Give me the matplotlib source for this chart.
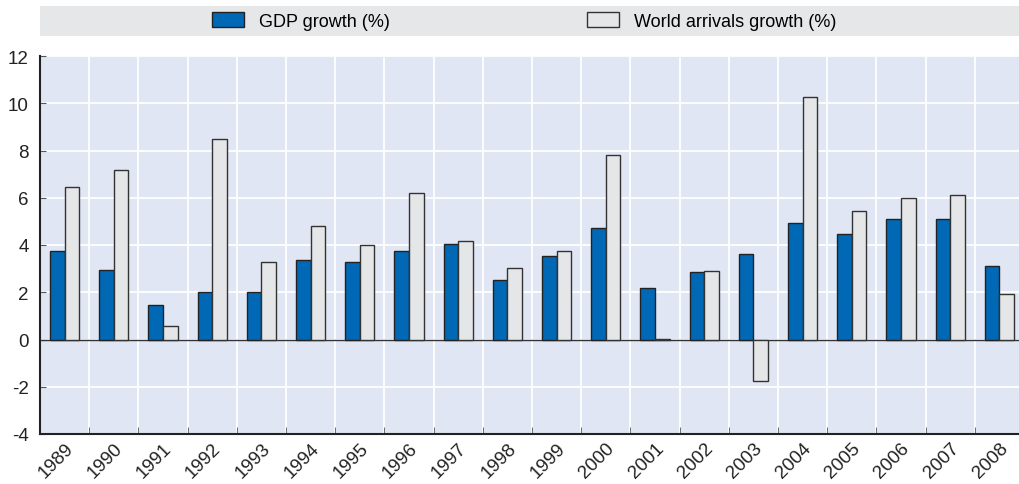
import matplotlib
matplotlib.use("Agg")
import matplotlib.pyplot as plt
import numpy as np
from matplotlib.patches import Rectangle

# données
years = ["1989", "1990", "1991", "1992", "1993", "1994", "1995", "1996", "1997", "1998",
         "1999", "2000", "2001", "2002", "2003", "2004", "2005", "2006", "2007", "2008"]
gdp_growth = [3.73, 2.94, 1.45, 2.02, 1.99, 3.36, 3.28, 3.74, 4.03, 2.53,
              3.53, 4.70, 2.20, 2.84, 3.63, 4.93, 4.45, 5.08, 5.08, 3.09]
arrivals_growth = [6.47, 7.18, 0.59, 8.47, 3.30, 4.82, 4.01, 6.21, 4.17, 3.02,
                   3.73, 7.81, 0.03, 2.90, -1.74, 10.28, 5.44, 6.00, 6.10, 1.91]
y_ticks = [-4, -2, 0, 2, 4, 6, 8, 10, 12]

plt.rcParams['font.family'] = ['Liberation Sans', 'DejaVu Sans']

W, H = 1019, 485
fig = plt.figure(figsize=(W / 100, H / 100), dpi=100)
ax = fig.add_axes([40 / W, 50 / H, 984 / W, 378 / H])
ax.set_facecolor('#e0e6f4')

x = np.arange(len(years))
bw = 0.295
b1 = ax.bar(x - bw / 2, gdp_growth, bw, color='#0068b5', edgecolor='#222222',
            linewidth=1.0, label='GDP growth (%)', zorder=3)
b2 = ax.bar(x + bw / 2, arrivals_growth, bw, color='#e5e6e8', edgecolor='#333333',
            linewidth=1.0, label='World arrivals growth (%)', zorder=3)

ax.set_xlim(-0.5, len(years) - 0.5)
ax.set_ylim(-4, 12)
ax.set_yticks(y_ticks)
ax.set_yticklabels([str(v) for v in y_ticks], fontsize=13.5, color='#222222')

# grille aux limites de catégories
ax.set_xticks(x - 0.5, minor=True)
ax.set_xticks(x)
ax.set_xticklabels(years, rotation=45, ha='right', rotation_mode='anchor',
                   fontsize=13.5, color='#222222')
ax.tick_params(axis='x', which='major', length=0, pad=4)
ax.tick_params(axis='x', which='minor', direction='in', length=5, color='#555555')
ax.tick_params(axis='y', direction='in', length=4, color='#555555', pad=8)
ax.grid(True, which='minor', axis='x', color='white', linewidth=1.3, zorder=1)
ax.grid(True, which='major', axis='y', color='white', linewidth=1.3, zorder=1)
ax.set_axisbelow(True)
ax.axhline(0, color='#333333', linewidth=1.0, zorder=2)

for s in ['top', 'right']:
    ax.spines[s].set_visible(False)
ax.spines['left'].set_color('#222222')
ax.spines['bottom'].set_color('#222222')
ax.spines['left'].set_linewidth(1.5)
ax.spines['bottom'].set_linewidth(1.5)

# bandeau de légende
fig.patches.append(Rectangle((40 / W, 1 - 37 / H), (W - 40) / W, 30 / H,
                             transform=fig.transFigure, facecolor='#e6e7e9',
                             edgecolor='none', zorder=0))
fig.legend(handles=[b1, b2], loc='center', bbox_to_anchor=(524 / W, 1 - 22 / H),
           ncol=2, frameon=False, fontsize=13, handlelength=1.77, handleheight=0.85,
           handletextpad=0.83, columnspacing=10.9)

fig.savefig('out.png', dpi=100)
